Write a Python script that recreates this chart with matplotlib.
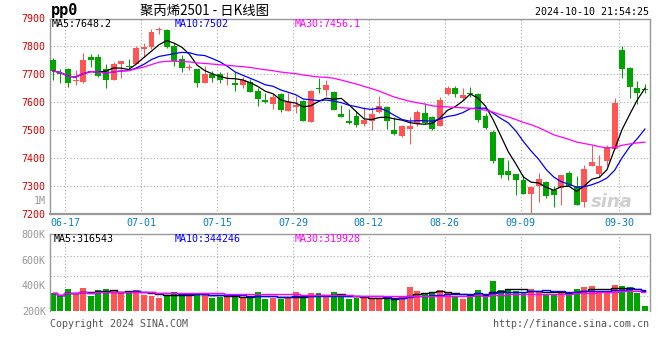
import numpy as np
import pandas as pd
import matplotlib
matplotlib.use("Agg")
import matplotlib.pyplot as plt

plt.rcParams['font.family'] = ['DejaVu Sans Mono', 'Noto Sans CJK SC']

# trading days (weekdays minus exchange holidays)
holidays = ['2024-09-16', '2024-09-17', '2024-10-01', '2024-10-02',
            '2024-10-03', '2024-10-04', '2024-10-07']
days = pd.bdate_range('2024-06-13', '2024-10-10')
days = days[~days.isin(pd.to_datetime(holidays))]
day_labels = list(days.strftime('%m-%d'))
tick_dates = ['06-17', '07-01', '07-15', '07-29', '08-12', '08-26', '09-09', '09-30']

opens = [7750, 7705, 7718, 7676, 7673, 7760, 7760, 7718, 7681, 7736,
         7727, 7738, 7792, 7797, 7858, 7858, 7803, 7753, 7722, 7720,
         7669, 7699, 7700, 7685, 7670, 7663, 7672, 7640, 7607, 7593,
         7628, 7568, 7583, 7603, 7530, 7648, 7643, 7635, 7557, 7533,
         7550, 7521, 7533, 7563, 7581, 7500, 7479, 7505, 7521, 7562,
         7545, 7515, 7629, 7652, 7613, 7633, 7629, 7551, 7494, 7399,
         7354, 7343, 7321, 7271, 7297, 7312, 7286, 7292, 7345, 7300,
         7240, 7371, 7343, 7387, 7432, 7786, 7722, 7649, 7646]
highs = [7759, 7720, 7723, 7714, 7776, 7774, 7774, 7738, 7744, 7748,
         7756, 7800, 7812, 7861, 7869, 7864, 7812, 7768, 7738, 7720,
         7728, 7712, 7708, 7708, 7708, 7690, 7684, 7649, 7631, 7628,
         7633, 7631, 7621, 7607, 7643, 7688, 7679, 7639, 7589, 7575,
         7568, 7581, 7581, 7621, 7586, 7545, 7517, 7545, 7571, 7598,
         7550, 7619, 7658, 7657, 7651, 7655, 7631, 7559, 7500, 7401,
         7393, 7343, 7339, 7294, 7345, 7318, 7298, 7339, 7351, 7333,
         7375, 7446, 7411, 7446, 7613, 7801, 7726, 7675, 7664]
lows = [7679, 7667, 7655, 7663, 7670, 7726, 7690, 7651, 7680, 7687,
        7720, 7736, 7762, 7792, 7843, 7795, 7730, 7708, 7714, 7655,
        7669, 7673, 7667, 7661, 7640, 7652, 7637, 7586, 7597, 7574,
        7565, 7568, 7560, 7533, 7530, 7631, 7622, 7571, 7548, 7521,
        7512, 7515, 7500, 7560, 7503, 7482, 7474, 7450, 7514, 7521,
        7500, 7515, 7625, 7619, 7607, 7619, 7530, 7503, 7381, 7327,
        7321, 7268, 7271, 7202, 7242, 7256, 7224, 7232, 7298, 7232,
        7222, 7369, 7333, 7369, 7432, 7687, 7613, 7593, 7633]
closes = [7712, 7700, 7667, 7680, 7750, 7750, 7694, 7681, 7738, 7746,
          7725, 7794, 7797, 7852, 7862, 7799, 7747, 7724, 7725, 7669,
          7702, 7687, 7679, 7688, 7663, 7681, 7637, 7612, 7601, 7619,
          7571, 7601, 7590, 7533, 7640, 7646, 7661, 7571, 7548, 7526,
          7518, 7536, 7557, 7586, 7533, 7486, 7514, 7513, 7565, 7524,
          7503, 7609, 7652, 7629, 7625, 7630, 7536, 7506, 7387, 7339,
          7339, 7319, 7271, 7294, 7325, 7262, 7265, 7337, 7300, 7232,
          7361, 7385, 7371, 7437, 7598, 7720, 7655, 7631, 7642]
volumes_k = [338, 320, 372, 330, 383, 320, 364, 372, 364, 338,
             346, 364, 325, 320, 304, 320, 351, 325, 320, 338,
             338, 304, 312, 312, 312, 312, 312, 351, 294, 304,
             294, 304, 351, 304, 338, 338, 312, 349, 312, 294,
             304, 299, 291, 304, 291, 300, 310, 390, 356, 338,
             338, 364, 338, 317, 294, 312, 364, 325, 435, 364,
             364, 359, 338, 372, 356, 333, 325, 356, 343, 370,
             390, 396, 351, 351, 403, 396, 385, 343, 239]

price_ma_text = ['MA5:7648.2', 'MA10:7502', 'MA30:7456.1']
vol_ma_text = ['MA5:316543', 'MA10:344246', 'MA30:319928']
price_ticks = [7200, 7300, 7400, 7500, 7600, 7700, 7800, 7900]
vol_ticks = [200e3, 400e3, 600e3, 800e3]
vol_tick_labels = ['200K', '400K', '600K', '800K']

RED = '#ff5555'
GREEN = '#00a400'
MA_COLORS = ['black', '#0000ff', '#ff00ff']
GRID = dict(color='#aaaaaa', linestyle=(0, (1, 2)), linewidth=0.8)

o = np.array(opens, float)
h = np.array(highs, float)
l = np.array(lows, float)
c = np.array(closes, float)
v = np.array(volumes_k, float) * 1000
x = np.arange(len(c))
colors = np.where(c > o, RED, GREEN)

W, H = 660, 360
def box(left, top, right, bottom):
    return [left / W, 1 - bottom / H, (right - left) / W, (bottom - top) / H]

fig = plt.figure(figsize=(6.6, 3.6), dpi=100)
ax = fig.add_axes(box(50, 18.5, 649.5, 213.5))
axv = fig.add_axes(box(50, 234.3, 649.5, 311))

grid_x = [day_labels.index(d) - 0.37 for d in tick_dates]

# price panel
ax.vlines(x, l, h, colors=colors, linewidth=0.75, zorder=2)
ax.bar(x, np.maximum(np.abs(c - o), 3), bottom=np.minimum(o, c),
       width=0.78, color=colors, linewidth=0, zorder=3)
for n, col in zip([5, 10, 30], MA_COLORS):
    ma = pd.Series(c).rolling(n, min_periods=1).mean()
    ax.plot(x, ma, color=col, linewidth=0.9, zorder=4)

ax.set_xlim(-0.37, 78.6)
ax.set_ylim(7200, 7900)
ax.set_yticks(price_ticks)
ax.set_xticks(grid_x)
ax.set_xticklabels(tick_dates)
ax.grid(True, **GRID)
ax.tick_params(length=0, labelsize=7.2)
ax.tick_params(axis='y', pad=3, labelcolor='#dd0000')
ax.tick_params(axis='x', pad=3, labelcolor='#0a7cc8')
for s in ax.spines.values():
    s.set_color('#999999')
    s.set_linewidth(1)
ax.spines['bottom'].set_linewidth(1.6)

# volume panel
axv.bar(x, v, width=0.78, color=colors, linewidth=0, zorder=2)
for n, col in zip([5, 10, 30], MA_COLORS):
    ma = pd.Series(v).rolling(n, min_periods=1).mean()
    axv.plot(x, ma, color=col, linewidth=1.0, drawstyle='steps-mid', zorder=3)
axv.set_xlim(-0.37, 78.6)
axv.set_ylim(200e3, 800e3)
axv.set_yticks(vol_ticks)
axv.set_yticklabels(vol_tick_labels)
axv.set_yticks([320e3, 477e3, 633e3], minor=True)
axv.set_xticks(grid_x)
axv.set_xticklabels([])
axv.grid(True, which='minor', axis='y', **GRID)
axv.grid(True, which='major', axis='x', **GRID)
axv.tick_params(which='both', length=0, labelsize=7.2, labelcolor='#999999', pad=3)
for s in axv.spines.values():
    s.set_color('#999999')
    s.set_linewidth(1)
axv.spines['bottom'].set_visible(False)

# texts
mono = dict(fontsize=7.2, va='center')
for txt, col, px in zip(price_ma_text, MA_COLORS, [52, 175, 295]):
    fig.text(px / W, 1 - 24 / H, txt, color=col, **mono)
for txt, col, px in zip(vol_ma_text, MA_COLORS, [54, 175, 295]):
    fig.text(px / W, 1 - 239.5 / H, txt, color=col, **mono)

fig.text(51 / W, 1 - 11 / H, 'pp0', fontsize=11, weight='bold', va='center')
fig.text(140 / W, 1 - 11 / H, '聚丙烯2501 - 日K线图', fontsize=9.6, va='center',
         family=['Noto Sans CJK SC', 'DejaVu Sans'])
fig.text(649 / W, 1 - 12 / H, '2024-10-10 21:54:25', ha='right', **mono)
fig.text(46 / W, 1 - 200.5 / H, '1M', ha='right', color='#999999', **mono)
fig.text(612 / W, 1 - 202 / H, 'sina', ha='center', va='center', color='#cfcfcf',
         fontsize=13, style='italic', weight='bold', family='DejaVu Sans')
fig.text(50 / W, 1 - 324 / H, 'Copyright 2024 SINA.COM', color='#555555', **mono)
fig.text(649 / W, 1 - 324 / H, 'http://finance.sina.com.cn', ha='right',
         color='#555555', **mono)

fig.savefig('out.png', dpi=100)
